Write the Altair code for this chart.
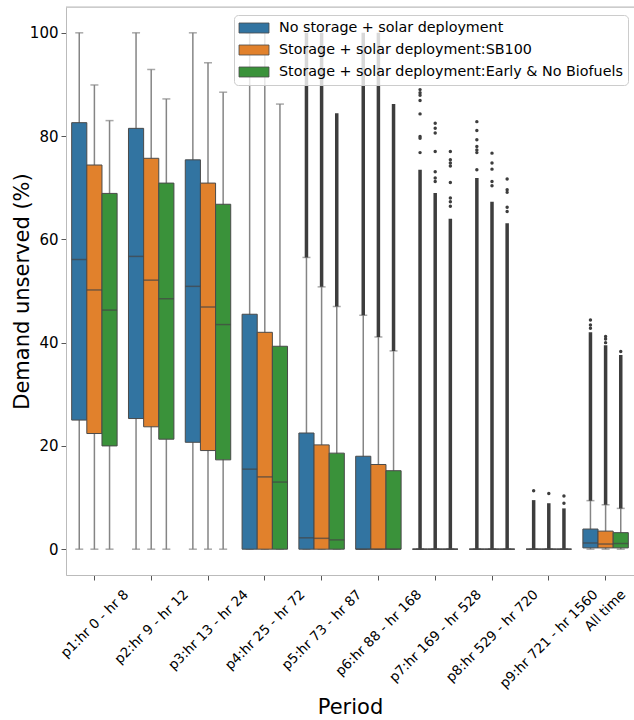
import altair as alt
import pandas as pd

periods = ["p1:hr 0 - hr 8", "p2:hr 9 - hr 12", "p3:hr 13 - hr 24", "p4:hr 25 - hr 72",
           "p5:hr 73 - hr 87", "p6:hr 88 - hr 168", "p7:hr 169 - hr 528", "p8:hr 529 - hr 720",
           "p9:hr 721 - hr 1560", "All time"]
scenarios = ["No storage + solar deployment",
             "Storage + solar deployment:SB100",
             "Storage + solar deployment:Early & No Biofuels"]
colors = ["#3274a1", "#e1812c", "#3a923a"]

# box statistics per scenario (rows) and period (columns)
q1_vals = [
    [25.0, 25.3, 20.7, 0, 0, 0, 0, 0, 0, 0.25],
    [22.4, 23.7, 19.1, 0, 0, 0, 0, 0, 0, 0.25],
    [20.0, 21.3, 17.3, 0, 0, 0, 0, 0, 0, 0.25],
]
median_vals = [
    [56.1, 56.7, 50.9, 15.5, 2.2, 0, 0, 0, 0, 1.2],
    [50.2, 52.1, 46.9, 14.0, 2.1, 0, 0, 0, 0, 1.0],
    [46.3, 48.5, 43.5, 13.0, 1.8, 0, 0, 0, 0, 1.1],
]
q3_vals = [
    [82.6, 81.5, 75.4, 45.5, 22.5, 18.0, 0, 0, 0, 3.9],
    [74.4, 75.7, 70.9, 42.0, 20.2, 16.4, 0, 0, 0, 3.5],
    [68.9, 70.9, 66.8, 39.3, 18.6, 15.2, 0, 0, 0, 3.2],
]
whisker_low = [
    [0] * 10,
    [0] * 10,
    [0] * 10,
]
whisker_high = [
    [100, 100, 100, 100, 56.5, 45.3, 0, 0, 0, 9.4],
    [89.9, 92.9, 94.2, 100, 50.8, 41.1, 0, 0, 0, 8.6],
    [83.0, 87.2, 88.5, 86.2, 47.0, 38.4, 0, 0, 0, 7.9],
]
# dense runs of outliers (low, high)
outlier_low = [
    [None, None, None, None, 56.5, 45.3, 0, 0, 0, 9.4],
    [None, None, None, None, 50.8, 41.1, 0, 0, 0, 8.6],
    [None, None, None, None, 47.0, 38.4, 0, 0, 0, 7.9],
]
outlier_high = [
    [None, None, None, None, 100, 100, 73.5, 71.9, 9.5, 42.0],
    [None, None, None, None, 100, 100, 69.0, 67.3, 8.9, 39.5],
    [None, None, None, None, 84.4, 86.2, 64.0, 63.1, 7.9, 37.6],
]
# isolated outlier points: (period index, scenario index, value)
sparse_outliers = [
    (6, 0, 89.0), (6, 0, 88.4), (6, 0, 87.9), (6, 0, 86.9), (6, 0, 84.3), (6, 0, 79.9), (6, 0, 79.6), (6, 0, 76.8),
    (6, 1, 82.5), (6, 1, 81.5), (6, 1, 80.6), (6, 1, 77.0), (6, 1, 73.1), (6, 1, 71.9), (6, 1, 71.2),
    (6, 2, 77.0), (6, 2, 75.4), (6, 2, 74.8), (6, 2, 74.2), (6, 2, 71.0), (6, 2, 68.0), (6, 2, 67.3), (6, 2, 66.4),
    (7, 0, 82.8), (7, 0, 81.1), (7, 0, 79.3), (7, 0, 78.0), (7, 0, 77.3), (7, 0, 76.8), (7, 0, 73.5),
    (7, 1, 76.7), (7, 1, 74.8), (7, 1, 73.6), (7, 1, 71.2), (7, 1, 70.4),
    (7, 2, 71.7), (7, 2, 69.6), (7, 2, 69.1), (7, 2, 66.2), (7, 2, 65.4),
    (8, 0, 11.3), (8, 1, 10.8), (8, 2, 10.3), (8, 2, 8.9),
    (9, 0, 44.4), (9, 0, 43.4), (9, 0, 42.8),
    (9, 1, 41.2), (9, 1, 40.7), (9, 1, 40.0),
    (9, 2, 38.3),
]

rows = []
for s_i, s in enumerate(scenarios):
    for p_i, p in enumerate(periods):
        rows.append(dict(period=p, scenario=s,
                         q1=q1_vals[s_i][p_i], med=median_vals[s_i][p_i], q3=q3_vals[s_i][p_i],
                         wlo=whisker_low[s_i][p_i], whi=whisker_high[s_i][p_i],
                         olo=outlier_low[s_i][p_i], ohi=outlier_high[s_i][p_i]))
df = pd.DataFrame(rows)
pts = pd.DataFrame([dict(period=periods[p], scenario=scenarios[s], value=v) for p, s, v in sparse_outliers])

W, H = 568, 568
FONT = "DejaVu Sans"
FRAME = "#bbbbbb"

label_offsets = [32, 35, 38, 38, 38, 41, 44, 44, 47, 18]
x_axis = alt.Axis(
    title="Period", labelAngle=315, labelAlign="right", labelBaseline="middle",
    labelPadding=12, labelFontSize=13.5, labelColor="#000000", labelOverlap=False, labelLimit=400,
    labelOffset={"condition": [{"test": f"datum.value == '{p}'", "value": o}
                               for p, o in zip(periods, label_offsets)], "value": 40},
    tickSize=5, tickColor="#555555", domainColor=FRAME, domainWidth=1,
    titleFontSize=21, titleFontWeight="normal", titleColor="#000000", titleY=132, titleBaseline="middle",
)
y_axis = alt.Axis(
    title="Demand unserved (%)", values=[0, 20, 40, 60, 80, 100], grid=False,
    labelFontSize=15, labelColor="#000000", labelPadding=3,
    tickSize=5, tickColor="#555555", domainColor=FRAME, domainWidth=1,
    titleFontSize=21, titleFontWeight="normal", titleColor="#000000",
    titleAngle=270, titleX=-44, titleY=H / 2, titleAlign="center", titleBaseline="middle",
)

x_enc = alt.X("period:N", sort=periods,
              scale=alt.Scale(domain=periods, paddingInner=0.2, paddingOuter=0.1), axis=x_axis)
xo_enc = alt.XOffset("scenario:N", sort=scenarios,
                     scale=alt.Scale(domain=scenarios, paddingInner=0, paddingOuter=0))
y_scale = alt.Scale(domain=[-5, 105], nice=False, zero=False)

base = alt.Chart(df)

whiskers = base.mark_rule(color="#858585", strokeWidth=1.5).encode(
    x=x_enc, xOffset=xo_enc, y=alt.Y("wlo:Q", scale=y_scale, axis=y_axis), y2="whi:Q")
cap_lo = base.mark_tick(color="#858585", size=8, thickness=1.5).encode(
    x=x_enc, xOffset=xo_enc, y=alt.Y("wlo:Q", scale=y_scale))
cap_hi = base.mark_tick(color="#858585", size=8, thickness=1.5).encode(
    x=x_enc, xOffset=xo_enc, y=alt.Y("whi:Q", scale=y_scale))
out_runs = base.transform_filter("isValid(datum.olo)").mark_rule(color="#3d3d3d", strokeWidth=3.5).encode(
    x=x_enc, xOffset=xo_enc, y=alt.Y("olo:Q", scale=y_scale), y2="ohi:Q")
out_pts = alt.Chart(pts).mark_circle(color="#3d3d3d", size=12, opacity=1).encode(
    x=x_enc, xOffset=xo_enc, y=alt.Y("value:Q", scale=y_scale))
boxes = base.mark_bar(stroke="#4a4a4a", strokeWidth=1, opacity=1).encode(
    x=x_enc, xOffset=xo_enc, y=alt.Y("q1:Q", scale=y_scale), y2="q3:Q",
    color=alt.Color("scenario:N", scale=alt.Scale(domain=scenarios, range=colors),
                    legend=alt.Legend(
                        title=None, orient="none", legendX=168, legendY=8,
                        symbolType="M-2,-0.667H2V0.667H-2Z", symbolSize=225,
                        symbolStrokeColor="#4a4a4a", symbolStrokeWidth=0.8, symbolOpacity=1,
                        symbolOffset=7, labelOffset=17,
                        labelFontSize=14.3, labelColor="#000000", labelLimit=500, rowPadding=6,
                        padding=5, fillColor="rgba(255,255,255,0.8)", strokeColor="#cccccc",
                        cornerRadius=4)))
medians = base.mark_tick(color="#444444", size=15, thickness=1.5).encode(
    x=x_enc, xOffset=xo_enc, y=alt.Y("med:Q", scale=y_scale))
top_frame = alt.Chart(pd.DataFrame({"k": [0]})).mark_rule(color=FRAME, strokeWidth=1).encode(
    x=alt.value(0), x2=alt.value(W), y=alt.value(0))

chart = alt.layer(whiskers, cap_lo, cap_hi, out_runs, out_pts, boxes, medians, top_frame).properties(
    width=W, height=H, autosize=alt.AutoSizeParams(type="none"),
    padding={"left": 66, "top": 7, "right": 0, "bottom": 145},
).configure_view(strokeWidth=0).configure(font=FONT, background="#ffffff")

chart.save("out.html", embed_options={"renderer": "svg", "actions": False})
